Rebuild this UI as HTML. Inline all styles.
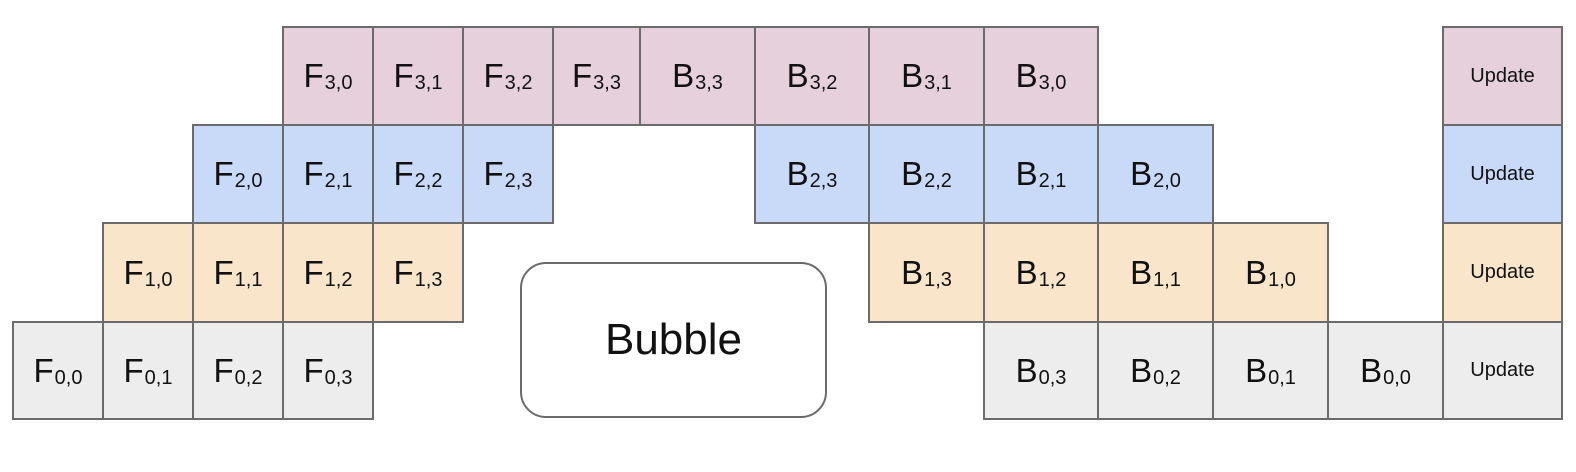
<!DOCTYPE html>
<html><head><meta charset="utf-8"><style>
body{margin:0;width:1576px;height:472px;background:#fff;position:relative;overflow:hidden;font-family:"Liberation Sans",Arial,sans-serif;}
.c{position:absolute;box-sizing:border-box;border:2px solid #6b6b6b;display:flex;align-items:center;justify-content:center;font-size:33px;color:#111;}
.c span sub{font-size:20px;vertical-align:-2px;margin-left:1px;}
.p{background:#e6d0dc}.b{background:#c9daf8}.o{background:#f9e5c9}.g{background:#ededed}
.u{font-size:20px}
.bub{position:absolute;left:520px;top:262px;width:307px;height:156px;box-sizing:border-box;border:2px solid #6b6b6b;border-radius:26px;background:#fff;display:flex;align-items:center;justify-content:center;font-size:44px;color:#111;}
</style></head><body>
<div class="c p" style="left:282px;top:26px;width:92px;height:100px"><span>F<sub>3,0</sub></span></div>
<div class="c p" style="left:372px;top:26px;width:92px;height:100px"><span>F<sub>3,1</sub></span></div>
<div class="c p" style="left:462px;top:26px;width:92px;height:100px"><span>F<sub>3,2</sub></span></div>
<div class="c p" style="left:552px;top:26px;width:89px;height:100px"><span>F<sub>3,3</sub></span></div>
<div class="c p" style="left:639px;top:26px;width:117px;height:100px"><span>B<sub>3,3</sub></span></div>
<div class="c p" style="left:754px;top:26px;width:116px;height:100px"><span>B<sub>3,2</sub></span></div>
<div class="c p" style="left:868px;top:26px;width:117px;height:100px"><span>B<sub>3,1</sub></span></div>
<div class="c p" style="left:983px;top:26px;width:116px;height:100px"><span>B<sub>3,0</sub></span></div>
<div class="c p u" style="left:1442px;top:26px;width:121px;height:100px">Update</div>
<div class="c b" style="left:192px;top:124px;width:92px;height:100px"><span>F<sub>2,0</sub></span></div>
<div class="c b" style="left:282px;top:124px;width:92px;height:100px"><span>F<sub>2,1</sub></span></div>
<div class="c b" style="left:372px;top:124px;width:92px;height:100px"><span>F<sub>2,2</sub></span></div>
<div class="c b" style="left:462px;top:124px;width:92px;height:100px"><span>F<sub>2,3</sub></span></div>
<div class="c b" style="left:754px;top:124px;width:116px;height:100px"><span>B<sub>2,3</sub></span></div>
<div class="c b" style="left:868px;top:124px;width:117px;height:100px"><span>B<sub>2,2</sub></span></div>
<div class="c b" style="left:983px;top:124px;width:116px;height:100px"><span>B<sub>2,1</sub></span></div>
<div class="c b" style="left:1097px;top:124px;width:117px;height:100px"><span>B<sub>2,0</sub></span></div>
<div class="c b u" style="left:1442px;top:124px;width:121px;height:100px">Update</div>
<div class="c o" style="left:102px;top:222px;width:92px;height:101px"><span>F<sub>1,0</sub></span></div>
<div class="c o" style="left:192px;top:222px;width:92px;height:101px"><span>F<sub>1,1</sub></span></div>
<div class="c o" style="left:282px;top:222px;width:92px;height:101px"><span>F<sub>1,2</sub></span></div>
<div class="c o" style="left:372px;top:222px;width:92px;height:101px"><span>F<sub>1,3</sub></span></div>
<div class="c o" style="left:868px;top:222px;width:117px;height:101px"><span>B<sub>1,3</sub></span></div>
<div class="c o" style="left:983px;top:222px;width:116px;height:101px"><span>B<sub>1,2</sub></span></div>
<div class="c o" style="left:1097px;top:222px;width:117px;height:101px"><span>B<sub>1,1</sub></span></div>
<div class="c o" style="left:1212px;top:222px;width:117px;height:101px"><span>B<sub>1,0</sub></span></div>
<div class="c o u" style="left:1442px;top:222px;width:121px;height:101px">Update</div>
<div class="c g" style="left:12px;top:321px;width:92px;height:99px"><span>F<sub>0,0</sub></span></div>
<div class="c g" style="left:102px;top:321px;width:92px;height:99px"><span>F<sub>0,1</sub></span></div>
<div class="c g" style="left:192px;top:321px;width:92px;height:99px"><span>F<sub>0,2</sub></span></div>
<div class="c g" style="left:282px;top:321px;width:92px;height:99px"><span>F<sub>0,3</sub></span></div>
<div class="c g" style="left:983px;top:321px;width:116px;height:99px"><span>B<sub>0,3</sub></span></div>
<div class="c g" style="left:1097px;top:321px;width:117px;height:99px"><span>B<sub>0,2</sub></span></div>
<div class="c g" style="left:1212px;top:321px;width:117px;height:99px"><span>B<sub>0,1</sub></span></div>
<div class="c g" style="left:1327px;top:321px;width:117px;height:99px"><span>B<sub>0,0</sub></span></div>
<div class="c g u" style="left:1442px;top:321px;width:121px;height:99px">Update</div>
<div class="bub">Bubble</div>
</body></html>
